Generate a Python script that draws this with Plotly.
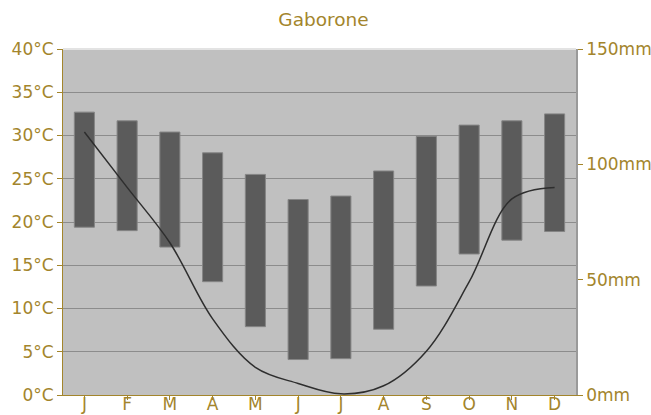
import plotly.graph_objects as go

months = ["J", "F", "M", "A", "M", "J", "J", "A", "S", "O", "N", "D"]
tmax = [32.7, 31.7, 30.4, 28.0, 25.5, 22.6, 23.0, 25.9, 29.9, 31.2, 31.7, 32.5]
tmin = [19.4, 19.0, 17.1, 13.1, 7.9, 4.1, 4.2, 7.6, 12.6, 16.3, 17.9, 18.9]
precip = [114, 90, 66, 33, 12, 5, 0.5, 4, 19, 49, 85, 90]
temp_ticks = [0, 5, 10, 15, 20, 25, 30, 35, 40]
temp_labels = [f"{t}°C" for t in temp_ticks]
rain_ticks = [0, 50, 100, 150]
rain_labels = [f"{r}mm" for r in rain_ticks]

gold = "#a3852c"
font = "DejaVu Sans"
x = list(range(len(months)))

fig = go.Figure()
fig.add_trace(go.Bar(
    x=x, y=[a - b for a, b in zip(tmax, tmin)], base=tmin,
    width=0.47,
    marker=dict(color="#5b5b5b", line=dict(color="#858585", width=1)),
    showlegend=False, hoverinfo="skip",
))
fig.add_trace(go.Scatter(
    x=x, y=precip, yaxis="y2", mode="lines",
    line=dict(color="#2e2e2e", width=1.5, shape="spline", smoothing=1.0),
    showlegend=False,
))

fig.update_layout(
    width=651, height=415,
    margin=dict(l=63, r=75, t=49, b=20, autoexpand=False),
    paper_bgcolor="white", plot_bgcolor="#c0c0c0",
    font=dict(family=font, size=17, color=gold),
    title=dict(text="Gaborone", x=0.497, xanchor="center", y=0.952, yanchor="middle",
               font=dict(family=font, size=18.5, color=gold)),
    xaxis=dict(range=[-0.5, 11.5], tickvals=x, ticktext=months,
               showgrid=False, zeroline=False, automargin=False,
               showline=True, linecolor=gold, linewidth=1,
               ticks="outside", ticklen=4, tickcolor=gold,
               ticklabelstandoff=-10,
               tickfont=dict(size=17, color=gold)),
    yaxis=dict(range=[0, 40], tickvals=temp_ticks, ticktext=temp_labels,
               showgrid=True, gridcolor="#8c8c8c", gridwidth=1.3, automargin=False,
               zeroline=False, showline=True, linecolor=gold, linewidth=1,
               ticks="outside", ticklen=5, tickcolor=gold,
               tickfont=dict(size=17, color=gold)),
    yaxis2=dict(range=[0, 150], tickvals=rain_ticks, ticktext=rain_labels,
                overlaying="y", side="right", showgrid=False, zeroline=False,
                automargin=False,
                showline=True, linecolor="#9a9a9a", linewidth=1.5,
                ticks="outside", ticklen=5, tickcolor=gold,
                tickfont=dict(size=17, color=gold)),
    bargap=0.5,
)
fig.add_shape(type="line", xref="paper", yref="paper", x0=0, x1=1, y0=1, y1=1,
              line=dict(color="#e3e3e3", width=2), layer="below")

fig.write_html("out.html", config={"displayModeBar": False},
               post_script="document.body.style.margin='0';")
